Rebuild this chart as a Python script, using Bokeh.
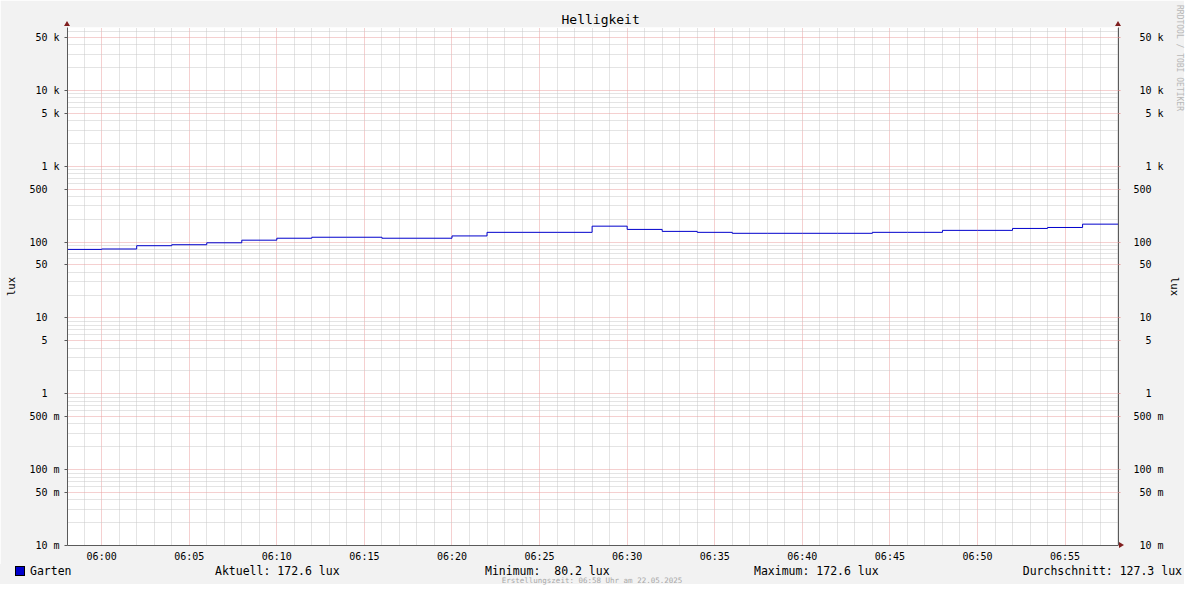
import pandas as pd
from bokeh.plotting import figure
from bokeh.layouts import column
from bokeh.models import (FixedTicker, LogAxis, DatetimeTickFormatter, Range1d, Div)
from bokeh.embed import file_html
from bokeh.resources import INLINE

# ---------------- data ----------------
chart_title = "Helligkeit"
series_name = "Garten"
unit = "lux"
day = "2025-05-22"

sample_times = ["05:58", "06:00", "06:02", "06:04", "06:06", "06:08", "06:10", "06:12",
                "06:14", "06:16", "06:18", "06:20", "06:22", "06:24", "06:26", "06:28",
                "06:30", "06:32", "06:34", "06:36", "06:38", "06:40", "06:42", "06:44",
                "06:46", "06:48", "06:50", "06:52", "06:54", "06:56"]
lux_values = [80.2, 81.2, 89.7, 92.4, 98.0, 106.1, 112.6, 116.0,
              116.0, 112.6, 112.6, 120.7, 134.6, 134.6, 134.6, 162.4,
              147.1, 138.6, 134.6, 130.7, 130.7, 130.7, 130.7, 134.6,
              134.6, 142.9, 142.9, 151.5, 156.0, 172.6]

window_start = "05:58:03"
window_end = "06:58:03"

y_min, y_max = 0.01, 67600
y_tick_values = [0.01, 0.05, 0.1, 0.5, 1, 5, 10, 50, 100, 500, 1000, 5000, 10000, 50000]
y_tick_labels = ["10 m", "50 m", "100 m", "500 m", "1", "5", "10", "50", "100", "500",
                 "1 k", "5 k", "10 k", "50 k"]
x_major_times = ["06:00", "06:05", "06:10", "06:15", "06:20", "06:25", "06:30", "06:35",
                 "06:40", "06:45", "06:50", "06:55"]

stat_names = ["Aktuell:", "Minimum:", "Maximum:", "Durchschnitt:"]
stat_values = [172.6, 80.2, 172.6, 127.3]
footer_text = "Erstellungszeit: 06:58 Uhr am 22.05.2025"
watermark_text = "RRDTOOL / TOBI OETIKER"

# ---------------- styles / layout ----------------
FONT = "DejaVu Sans Mono"
BACK = "#f2f2f2"
LINE_COLOR = "#0000cc"
MINOR_GRID = "#c8c8c8"
MAJOR_GRID = "#eaa0a0"
AXIS_COLOR = "#5a5a5a"
ARROW_COLOR = "#801f1f"
FW = 1184
MAIN_H = 564
ROW_H = 584 - MAIN_H
FRAME_L, FRAME_R, FRAME_T, FRAME_B = 67, 1118, 27, 549


def ts(hm):
    return pd.Timestamp(f"{day} {hm}")


def ms(t):
    return t.value / 1e6


t_start = ts(window_start)
t_end = ts(window_end)

step_x = [ts(t) for t in sample_times] + [t_end]
step_y = lux_values + [lux_values[-1]]

x_major = [ms(ts(t)) for t in x_major_times]
x_minor = [ms(t) for t in pd.date_range(ts("05:59"), ts("06:58"), freq="1min")]
x_minor = [v for v in x_minor if v not in x_major]

y_minor = []
for e in range(-2, 5):
    for m in (2, 3, 4, 6, 7, 8, 9):
        v = m * 10.0 ** e
        if v <= y_max:
            y_minor.append(v)


def pad(lbl):
    if " " in lbl:
        num, suf = lbl.split(" ")
    else:
        num, suf = lbl, "\u00a0"
    return num.rjust(3, "\u00a0") + "\u00a0" + suf


y_overrides = {v: pad(l) for v, l in zip(y_tick_values, y_tick_labels)}

p = figure(width=FW, height=MAIN_H, x_axis_type="datetime", y_axis_type="log",
           x_range=Range1d(t_start, t_end), y_range=Range1d(y_min, y_max),
           output_backend="svg", toolbar_location=None,
           min_border_left=FRAME_L, min_border_right=FW - FRAME_R,
           min_border_top=FRAME_T, min_border_bottom=MAIN_H - FRAME_B,
           border_fill_color=BACK, background_fill_color="white")
p.outline_line_color = None

p.title.text = chart_title
p.title.text_font = FONT
p.title.text_font_size = "13px"
p.title.text_font_style = "normal"
p.title.text_color = "black"
p.title.align = "left"
p.title.offset = 494
p.title.standoff = 2

# x axis
xa = p.xaxis[0]
xa.ticker = FixedTicker(ticks=x_major, minor_ticks=x_minor)
xa.formatter = DatetimeTickFormatter(minutes="%H:%M", hours="%H:%M", minsec="%H:%M")
xa.major_label_text_font = FONT
xa.major_label_text_font_size = "10px"
xa.major_label_text_line_height = 1.0
xa.major_label_text_color = "black"
xa.major_tick_out = 0
xa.major_tick_in = 0
xa.minor_tick_line_color = None
xa.major_label_standoff = 1
xa.axis_label_standoff = 0
xa.axis_line_color = AXIS_COLOR

# y axes
y_ticker = FixedTicker(ticks=y_tick_values, minor_ticks=y_minor)
ya = p.yaxis[0]
ya.ticker = y_ticker
ya.major_label_overrides = y_overrides
ya.axis_label = unit
ya.axis_label_text_font = FONT
ya.axis_label_text_font_size = "10.5px"
ya.axis_label_text_font_style = "normal"
ya.axis_label_text_color = "black"
ya.axis_label_standoff = 9
ya.major_label_text_font = FONT
ya.major_label_text_font_size = "10px"
ya.major_label_text_color = "black"
ya.major_tick_out = 3
ya.major_tick_in = 0
ya.major_tick_line_color = AXIS_COLOR
ya.minor_tick_line_color = None
ya.major_label_standoff = 4
ya.axis_line_color = AXIS_COLOR

yr = LogAxis(ticker=y_ticker, major_label_overrides=y_overrides, axis_label=unit,
             axis_label_text_font=FONT, axis_label_text_font_size="10.5px",
             axis_label_text_font_style="normal", axis_label_text_color="black",
             axis_label_standoff=2,
             major_label_text_font=FONT, major_label_text_font_size="10px",
             major_label_text_color="black",
             major_tick_out=2, major_tick_in=0, major_tick_line_color=MAJOR_GRID,
             minor_tick_line_color=None, major_label_standoff=11,
             axis_line_color=AXIS_COLOR)
p.add_layout(yr, "right")

# grids
for g in (p.xgrid[0], p.ygrid[0]):
    g.grid_line_color = MAJOR_GRID
    g.grid_line_dash = "1 1"
    g.minor_grid_line_color = MINOR_GRID
    g.minor_grid_line_dash = "1 1"

# data line
p.step(x=step_x, y=step_y, mode="after", line_color=LINE_COLOR, line_width=1,
       name=series_name)

# ---------------- legend / statistics row (+ canvas decorations) ----------------
R = MAIN_H  # page y of the row's top edge
stat_texts = [f"{n} {v:5.1f} {unit}" for n, v in zip(stat_names, stat_values)]
row_pos = ["left:215px", "left:485px", "left:754px", "right:2px"]
spans = [
    '<span style="position:absolute;left:15px;top:2px;width:10px;height:10px;'
    f'box-sizing:border-box;background:{LINE_COLOR};border:1px solid #000;"></span>',
    f'<span style="position:absolute;left:30px;top:1px;line-height:12px;">{series_name}</span>',
]
for txt, pos in zip(stat_texts, row_pos):
    spans.append(f'<span style="position:absolute;{pos};top:1px;line-height:12px;">{txt}</span>')
spans.append(
    '<span style="position:absolute;left:0;width:1184px;top:13px;line-height:7px;'
    f'text-align:center;font-size:7.5px;color:#a8a8a8;">{footer_text}</span>')
# watermark, top right, reading downwards
spans.append(
    f'<span style="position:absolute;left:1175px;top:{5 - R}px;writing-mode:vertical-rl;'
    f'font-size:8px;line-height:9px;color:#b8b8b8;">{watermark_text}</span>')
# axis arrow heads
spans.append(
    f'<span style="position:absolute;left:{FRAME_L - 3}px;top:{21 - R}px;width:0;height:0;'
    f'border-left:3px solid transparent;border-right:3px solid transparent;'
    f'border-bottom:5px solid {ARROW_COLOR};"></span>')
spans.append(
    f'<span style="position:absolute;left:{FRAME_R - 3}px;top:{21 - R}px;width:0;height:0;'
    f'border-left:3px solid transparent;border-right:3px solid transparent;'
    f'border-bottom:5px solid {ARROW_COLOR};"></span>')
spans.append(
    f'<span style="position:absolute;left:{FRAME_R + 1}px;top:{FRAME_B - 7 - R}px;width:0;height:0;'
    f'border-top:3px solid transparent;border-bottom:3px solid transparent;'
    f'border-left:5px solid {ARROW_COLOR};"></span>')

row_html = (f'<div style="position:relative;width:{FW}px;height:{ROW_H}px;'
            f'font-family:\'{FONT}\';font-size:11.5px;color:#000;white-space:pre;">'
            + "".join(spans) + "</div>")

legend_row = Div(text=row_html, width=FW, height=ROW_H, margin=0,
                 styles={"background-color": BACK, "overflow": "visible"})

layout = column(p, legend_row, spacing=0)
open("out.html", "w").write(file_html(layout, INLINE))
